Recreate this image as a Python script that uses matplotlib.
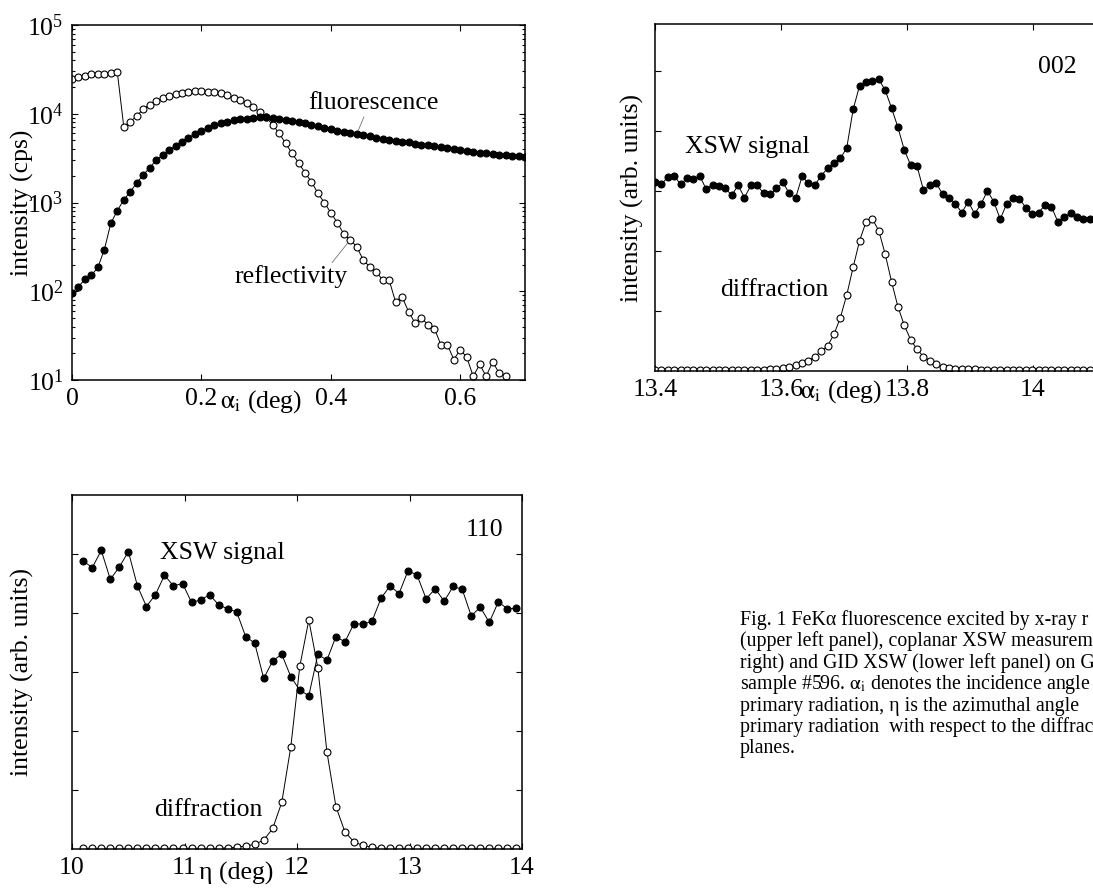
import numpy as np
import matplotlib
matplotlib.use("Agg")
import matplotlib.pyplot as plt

plt.rcParams["font.family"] = ["Liberation Serif", "DejaVu Serif"]
plt.rcParams["mathtext.fontset"] = "stix"
plt.rcParams["font.size"] = 18.5
plt.rcParams["xtick.direction"] = "in"
plt.rcParams["ytick.direction"] = "in"
plt.rcParams["axes.linewidth"] = 1.1

# upper left: reflectivity / fluorescence vs incidence angle
alpha_fluo = np.round(np.arange(0, 0.701, 0.01), 2)
fluo = [96, 113, 136, 151, 186, 295, 584, 809, 1070, 1320,
        1660, 2040, 2460, 3000, 3430, 3890, 4360, 4840, 5370, 5900,
        6430, 6970, 7460, 7870, 8130, 8510, 8750, 8790, 8870, 9270,
        9150, 9000, 8800, 8550, 8350, 8050, 7800, 7550, 7250, 6950,
        6700, 6450, 6300, 6100, 5900, 5750, 5550, 5400, 5250, 5050,
        4950, 4850, 4750, 4600, 4500, 4400, 4300, 4200, 4100, 4000,
        3900, 3800, 3750, 3650, 3600, 3500, 3450, 3400, 3350, 3300,
        3280]
alpha_refl = np.round(np.arange(0, 0.671, 0.01), 2)
refl = [24500, 25800, 26800, 27800, 28000, 28300, 28600, 29500, 7150, 8130,
        9440, 11300, 12600, 13900, 14900, 15800, 16500, 17000, 17600, 18000,
        18000, 17800, 17600, 17000, 16200, 15100, 14300, 13100, 11800, 10500,
        9120, 7500, 6040, 4650, 3580, 2810, 2170, 1710, 1270, 995,
        767, 592, 441, 380, 318, 225, 189, 166, 134, 134,
        76, 87, 59, 44, 50, 42, 38, 25, 25, 17,
        22, 18, 11, 15, 11, 16, 12, 11]

# upper right: coplanar XSW, 002
alpha_002 = np.linspace(13.40, 14.09, 69)
xsw_002 = [3.14, 3.11, 3.23, 3.25, 3.11, 3.21, 3.19, 3.25, 3.03, 3.10,
           3.08, 3.04, 2.93, 3.09, 2.89, 3.09, 3.09, 2.96, 2.94, 3.04,
           3.14, 2.96, 2.88, 3.24, 3.13, 3.10, 3.25, 3.38, 3.46, 3.54,
           3.72, 4.36, 4.75, 4.81, 4.83, 4.86, 4.68, 4.38, 4.06, 3.68,
           3.43, 3.41, 3.01, 3.09, 3.13, 2.94, 2.89, 2.78, 2.64, 2.82,
           2.62, 2.78, 3.00, 2.82, 2.53, 2.78, 2.88, 2.87, 2.72, 2.61,
           2.64, 2.76, 2.74, 2.49, 2.56, 2.63, 2.56, 2.53, 2.53]
diff_002 = [0.02, 0.02, 0.02, 0.02, 0.02, 0.02, 0.02, 0.02, 0.02, 0.02,
            0.02, 0.02, 0.02, 0.02, 0.02, 0.02, 0.02, 0.02, 0.025, 0.03,
            0.05, 0.07, 0.10, 0.13, 0.17, 0.24, 0.33, 0.42, 0.61, 0.89,
            1.27, 1.73, 2.17, 2.48, 2.53, 2.34, 1.95, 1.49, 1.07, 0.76,
            0.52, 0.36, 0.24, 0.17, 0.11, 0.07, 0.05, 0.04, 0.035, 0.03,
            0.03, 0.02, 0.02, 0.02, 0.02, 0.02, 0.02, 0.02, 0.02, 0.02,
            0.02, 0.02, 0.02, 0.02, 0.02, 0.02, 0.02, 0.02, 0.02]

# lower left: GID XSW, 110
eta = np.linspace(10.10, 13.95, 49)
xsw_110 = [4.88, 4.77, 5.06, 4.57, 4.78, 5.04, 4.46, 4.11, 4.31, 4.64,
           4.46, 4.50, 4.18, 4.22, 4.31, 4.14, 4.07, 4.02, 3.60, 3.49,
           2.89, 3.19, 3.30, 2.92, 2.69, 2.60, 3.30, 3.20, 3.60, 3.51,
           3.82, 3.81, 3.86, 4.25, 4.46, 4.33, 4.72, 4.64, 4.24, 4.41,
           4.20, 4.45, 4.40, 3.95, 4.10, 3.84, 4.19, 4.07, 4.08]
diff_110 = [0.01, 0.01, 0.01, 0.01, 0.01, 0.01, 0.01, 0.01, 0.01, 0.01,
            0.01, 0.01, 0.01, 0.01, 0.01, 0.01, 0.02, 0.03, 0.05, 0.08,
            0.15, 0.35, 0.79, 1.73, 3.10, 3.88, 3.07, 1.65, 0.72, 0.29,
            0.12, 0.06, 0.03, 0.01, 0.01, 0.01, 0.01, 0.01, 0.01, 0.01,
            0.01, 0.01, 0.01, 0.01, 0.01, 0.01, 0.01, 0.01, 0.01]

# caption as far as it is visible (the page is cut at the right edge)
caption = [
    "Fig. 1 FeKα fluorescence excited by x-ray r",
    "(upper left panel), coplanar XSW measurem",
    "right) and GID XSW (lower left panel) on G",
    r"sample #596. $\mathrm{\alpha_i}$ denotes the incidence angle",
    "primary radiation, η is the azimuthal angle",
    "primary radiation  with respect to the diffrac",
    "planes.",
]

W, H = 1093, 893
fig = plt.figure(figsize=(W / 100, H / 100), dpi=100)


def px_axes(left, top, right, bottom):
    return fig.add_axes([left / W, 1 - bottom / H, (right - left) / W, (bottom - top) / H])


open_style = dict(color="k", lw=0.7, marker="o", ms=5, mfc="white", mec="k", mew=0.8)
full_style = dict(color="k", lw=0.7, marker="o", ms=5, mfc="k", mec="k", mew=0.8)

# ---- upper left ----
ax1 = px_axes(72, 25, 525, 380)
ax1.semilogy(alpha_refl, refl, **open_style)
ax1.semilogy(alpha_fluo, fluo, **full_style)
ax1.set_xlim(0, 0.7)
ax1.set_ylim(10, 1e5)
ax1.set_xticks([0, 0.2, 0.4, 0.6])
ax1.set_xticklabels(["0", "0.2", "0.4", "0.6"])
ax1.set_xlabel(r"$\mathrm{\alpha_i}$ (deg)", va="center")
ax1.xaxis.set_label_coords(0.418, -0.06)
ax1.set_ylabel("intensity (cps)", va="center")
ax1.yaxis.set_label_coords(-0.11, 0.5)
ax1.annotate("fluorescence", xy=(alpha_fluo[44], fluo[44]), xytext=(0.465, 13200),
             ha="center", va="center",
             arrowprops=dict(arrowstyle="-", color="0.45", lw=0.6, relpos=(0.44, 0.0),
                             shrinkA=0, shrinkB=3))
ax1.annotate("reflectivity", xy=(alpha_refl[43], refl[43]), xytext=(0.339, 145),
             ha="center", va="center",
             arrowprops=dict(arrowstyle="-", color="0.45", lw=0.6, relpos=(0.84, 1.0),
                             shrinkA=0, shrinkB=3))

# ---- upper right ----
ax2 = px_axes(655, 24, 655 + 504, 371)
ax2.plot(alpha_002, xsw_002, **full_style)
ax2.plot(alpha_002, diff_002, **open_style)
ax2.set_xlim(13.4, 14.2)
ax2.set_ylim(0, 5.78)
ax2.set_xticks([13.4, 13.6, 13.8, 14.0])
ax2.set_xticklabels(["13.4", "13.6", "13.8", "14"])
ax2.set_yticks([1, 2, 3, 4, 5])
ax2.set_yticklabels([])
ax2.set_xlabel(r"$\mathrm{\alpha_i}$ (deg)", va="center")
ax2.xaxis.set_label_coords(0.37, -0.058)
ax2.set_ylabel("intensity (arb. units)", va="center")
ax2.yaxis.set_label_coords(-0.044, 0.5)
ax2.text(14.038, 5.07, "002", ha="center", va="center")
ax2.text(13.546, 3.73, "XSW signal", ha="center", va="center")
ax2.text(13.589, 1.35, "diffraction", ha="center", va="center")

# ---- lower left ----
ax3 = px_axes(72, 495, 522, 849)
ax3.plot(eta, xsw_110, **full_style)
ax3.plot(eta, diff_110, **open_style)
ax3.set_xlim(10, 14)
ax3.set_ylim(0, 6)
ax3.set_xticks([10, 11, 12, 13, 14])
ax3.set_yticks([1, 2, 3, 4, 5])
ax3.set_yticklabels([])
ax3.set_xlabel("η (deg)", va="center")
ax3.xaxis.set_label_coords(0.365, -0.07)
ax3.set_ylabel("intensity (arb. units)", va="center")
ax3.yaxis.set_label_coords(-0.111, 0.5)
ax3.text(13.67, 5.41, "110", ha="center", va="center")
ax3.text(11.34, 5.02, "XSW signal", ha="center", va="center")
ax3.text(11.21, 0.66, "diffraction", ha="center", va="center")

for ax in (ax1, ax2, ax3):
    ax.tick_params(which="both", top=True, right=True, width=0.8, pad=6)
    ax.tick_params(which="major", length=4)
    ax.tick_params(which="minor", length=2.2)

for i, line in enumerate(caption):
    fig.text(740 / W, 1 - (620 + 21.5 * i) / H, line, fontsize=14.3, ha="left", va="center")

fig.savefig("out.png", dpi=100)
plt.close(fig)
